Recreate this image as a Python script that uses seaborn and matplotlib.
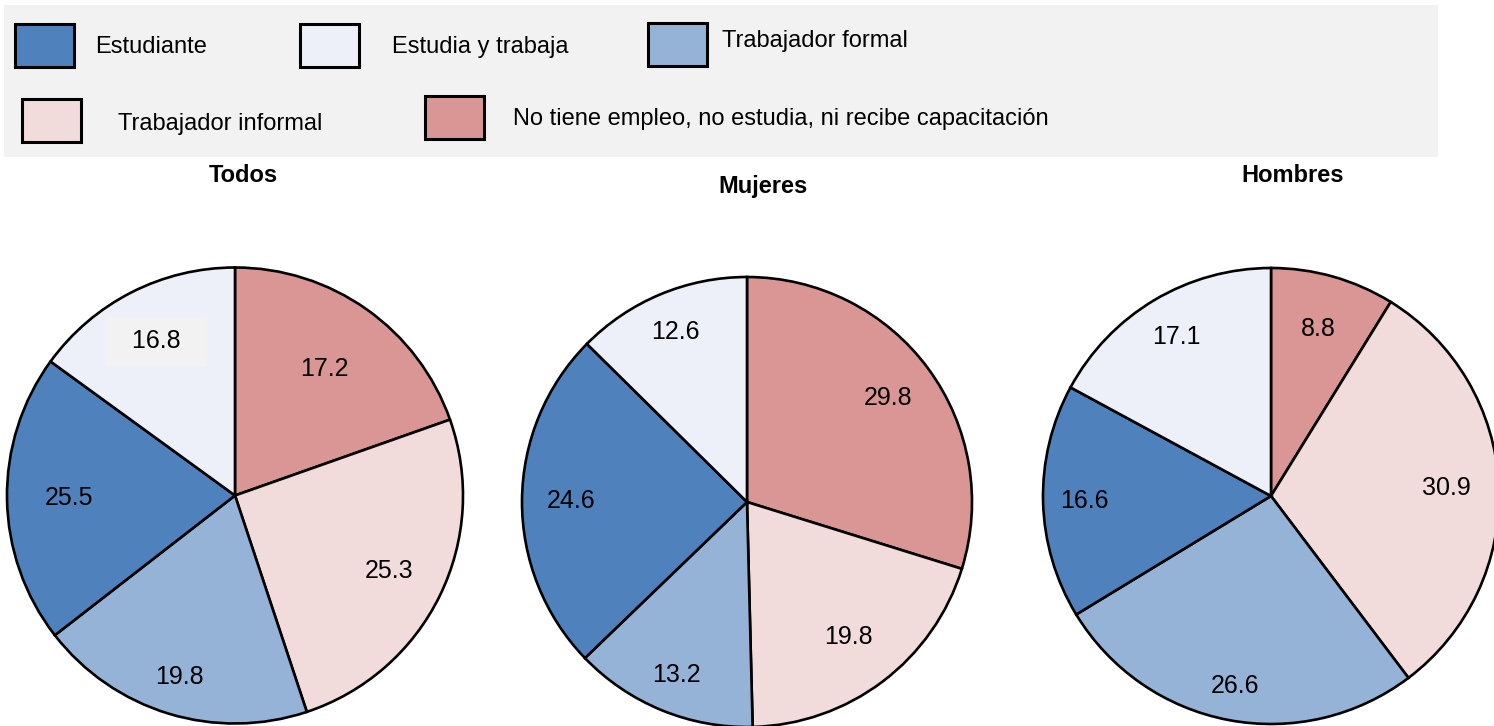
import numpy as np
import matplotlib
matplotlib.use("Agg")
import matplotlib.pyplot as plt
import seaborn as sns
from matplotlib.patches import Rectangle

# categories in legend order
categories = [
    "Estudiante",
    "Estudia y trabaja",
    "Trabajador formal",
    "Trabajador informal",
    "No tiene empleo, no estudia, ni recibe capacitación",
]
colors = ["#4F81BD", "#EDF0F8", "#95B3D7", "#F2DCDB", "#D99694"]

# values per group, legend order
mujeres_values = [24.6, 12.6, 13.2, 19.8, 29.8]
hombres_values = [16.6, 17.1, 26.6, 30.9, 8.8]
todos_labels = [25.5, 16.8, 19.8, 25.3, 17.2]
# "Todos" slices as drawn (the printed labels add up to 104.6)
todos_shares = [20.5, 15.0, 19.6, 25.3, 19.6]

# clockwise order of the slices, starting at 12 o'clock
pie_order = [4, 3, 2, 0, 1]

W, H = 1494, 726
FONT = ["Liberation Sans", "DejaVu Sans"]

sns.set_theme(style="white")
plt.rcParams["font.family"] = FONT
palette = sns.color_palette(colors)

fig = plt.figure(figsize=(W / 100, H / 100), dpi=100)

# ---- legend band drawn in pixel coordinates
ax_leg = fig.add_axes([0, 0, 1, 1], zorder=0)
ax_leg.set_xlim(0, W)
ax_leg.set_ylim(H, 0)
ax_leg.axis("off")
ax_leg.add_patch(Rectangle((4, 5), 1434, 152, facecolor="#F2F2F2", edgecolor="none"))

# (patch left, patch top, text left, text y)
legend_slots = [
    (15, 24, 95, 47),
    (300, 24, 392, 47),
    (648, 23, 722, 41),
    (22, 99, 118, 124),
    (425, 96, 513, 119),
]
for (px, py, tx, ty), name, col in zip(legend_slots, categories, palette):
    ax_leg.add_patch(Rectangle((px, py), 59, 43, facecolor=col,
                               edgecolor="black", linewidth=2.2))
    ax_leg.text(tx, ty, name, fontsize=17, ha="left", va="center",
                color="black")

# ---- pies
panels = [
    dict(title="Todos", tpos=(243, 175), center=(235, 495.5), r=228,
         shares=todos_shares, labels=todos_labels,
         dists=[0.68, 0.75, 0.83, 0.73, 0.76]),
    dict(title="Mujeres", tpos=(763, 186), center=(747, 502), r=225,
         shares=mujeres_values, labels=mujeres_values,
         dists=[0.78, 0.75, 0.83, 0.78, 0.82]),
    dict(title="Hombres", tpos=(1293, 175), center=(1271, 496), r=228,
         shares=hombres_values, labels=hombres_values,
         dists=[0.76, 0.77, 0.85, 0.82, 0.81]),
]

for p in panels:
    cx, cy = p["center"]
    r = p["r"]
    ax = fig.add_axes([(cx - r) / W, (H - (cy + r)) / H, 2 * r / W, 2 * r / H], zorder=2)
    vals = [p["shares"][i] for i in pie_order]
    labs = [p["labels"][i] for i in pie_order]
    cols = [palette[i] for i in pie_order]
    wedges, _ = ax.pie(vals, colors=cols, startangle=90, counterclock=False,
                       wedgeprops=dict(edgecolor="black", linewidth=1.9, clip_on=False))
    for w, lab, d, idx in zip(wedges, labs, p["dists"], pie_order):
        ang = np.deg2rad((w.theta1 + w.theta2) / 2)
        txt = f"{lab:.1f}"
        kw = {}
        # the 16.8 label of "Todos" sits in a grey box
        if p["title"] == "Todos" and idx == 1:
            txt = f"  {txt}  "
            kw["bbox"] = dict(boxstyle="square,pad=0.5", facecolor="#F2F2F2", edgecolor="none")
        ax.text(d * np.cos(ang), d * np.sin(ang), txt, ha="center", va="center",
                fontsize=18, color="black", **kw)
    ax.set_xlim(-1, 1)
    ax.set_ylim(-1, 1)
    ax.axis("off")

    tx, ty = p["tpos"]
    fig.text(tx / W, 1 - ty / H, p["title"], fontsize=17, fontweight="bold",
             ha="center", va="center", color="black")

fig.savefig("out.png", dpi=100)
